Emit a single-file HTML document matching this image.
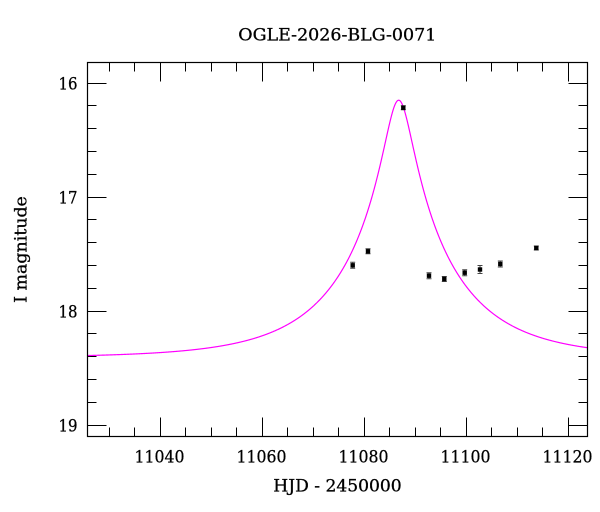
<!DOCTYPE html>
<html>
<head>
<meta charset="utf-8">
<style>
  html, body { margin: 0; padding: 0; background: #fff; }
  svg { display: block; }
  text { font-family: "DejaVu Serif", "Liberation Serif", serif; fill: #000; stroke: #000; stroke-width: 0.3; }
</style>
</head>
<body>
<svg id="chart" width="600" height="512" viewBox="0 0 600 512" xmlns="http://www.w3.org/2000/svg">
  <rect x="0" y="0" width="600" height="512" fill="#fff"/>
  <defs>
    <clipPath id="plotclip"><rect x="87.5" y="62.5" width="500" height="374"/></clipPath>
  </defs>

  <!-- title -->
  <text x="337.3" y="40.7" font-size="17" text-anchor="middle" textLength="198" lengthAdjust="spacingAndGlyphs">OGLE-2026-BLG-0071</text>

  <!-- axis titles -->
  <text x="337.5" y="491.7" font-size="17" text-anchor="middle" textLength="128.4" lengthAdjust="spacingAndGlyphs">HJD - 2450000</text>
  <text transform="translate(26.7,249.5) rotate(-90)" x="0" y="0" font-size="17" text-anchor="middle" textLength="106.7" lengthAdjust="spacingAndGlyphs">I magnitude</text>

  <g id="ticks" stroke="#000" stroke-width="1" fill="none"></g>
  <g id="labels"></g>

  <!-- model curve -->
  <path id="curve" d="" fill="none" stroke="#ff00ff" stroke-width="1.2" clip-path="url(#plotclip)"/>

  <!-- data -->
  <g id="data" stroke="#000" fill="#000"></g>

  <!-- frame -->
  <rect x="87.5" y="62.5" width="500" height="374" fill="none" stroke="#000" stroke-width="1.2"/>
</svg>
<script>
(function(){
  var NS = "http://www.w3.org/2000/svg";
  function X(t){ return 159.5 + (t - 11040) * 5.1; }
  function Y(m){ return 82.5 + (m - 16) * 114; }
  var L = 87.5, R = 587.5, T = 62.5, B = 436.5;
  var tg = document.getElementById('ticks');
  var lg = document.getElementById('labels');
  function line(x1,y1,x2,y2){
    var l = document.createElementNS(NS,'line');
    l.setAttribute('x1',x1); l.setAttribute('y1',y1);
    l.setAttribute('x2',x2); l.setAttribute('y2',y2);
    tg.appendChild(l);
  }
  function text(x,y,s,anchor,len){
    var t = document.createElementNS(NS,'text');
    t.setAttribute('x',x); t.setAttribute('y',y);
    t.setAttribute('font-size','17');
    t.setAttribute('text-anchor',anchor);
    if(len){ t.setAttribute('textLength',len); t.setAttribute('lengthAdjust','spacingAndGlyphs'); }
    t.textContent = s;
    lg.appendChild(t);
  }
  // x ticks
  for (var d = 11030; d <= 11120; d += 5) {
    var x = Math.round(X(d)) + 0.5;
    var major = (d % 20 === 0);
    var len = major ? 19 : 9;
    line(x, B, x, B - len);
    line(x, T, x, T + len);
    if (major) text(X(d), 462.7, String(d), 'middle', 50);
  }
  // y ticks
  for (var i = 0; i <= 15; i++) {
    var m = 16 + i * 0.2;
    var y = Math.round(Y(m)) + 0.5;
    var major = (i % 5 === 0);
    var len = major ? 19 : 9;
    line(L, y, L + len, y);
    line(R, y, R - len, y);
    if (major) text(77.5, Y(m) + 7, String(Math.round(m)), 'end', 19);
  }
  // model curve (Paczynski)
  var Ib = 18.415, u0 = 0.1255, tE = 20.9, t0 = 11086.9;
  function mag(t){
    var tau = (t - t0) / tE;
    var u = Math.sqrt(u0*u0 + tau*tau);
    var A = (u*u + 2) / (u * Math.sqrt(u*u + 4));
    return Ib - 2.5 * Math.log(A) / Math.LN10;
  }
  var d = "";
  var tStart = 11025.5, tEnd = 11124.5;
  for (var t = tStart; t <= tEnd; t += 0.05) {
    d += (d ? " L" : "M") + X(t).toFixed(2) + " " + Y(mag(t)).toFixed(2);
  }
  document.getElementById('curve').setAttribute('d', d);
  // data points [x, y, err]
  var pts = [
    [352.7, 265.3, 3],
    [368.0, 251.3, 2.5],
    [403.3, 107.7, 2],
    [429.0, 275.7, 3],
    [444.3, 279.0, 2.5],
    [464.7, 272.7, 3],
    [480.0, 269.5, 4],
    [500.3, 264.0, 3],
    [536.3, 248.0, 2]
  ];
  var dg = document.getElementById('data');
  pts.forEach(function(p){
    var x = p[0], y = p[1], e = p[2];
    var eb = document.createElementNS(NS,'path');
    eb.setAttribute('d', 'M'+x+' '+(y-e)+' L'+x+' '+(y+e)+
      ' M'+(x-2.5)+' '+(y-e)+' L'+(x+2.5)+' '+(y-e)+
      ' M'+(x-2.5)+' '+(y+e)+' L'+(x+2.5)+' '+(y+e));
    eb.setAttribute('stroke','#444'); eb.setAttribute('stroke-width','1'); eb.setAttribute('fill','none');
    dg.appendChild(eb);
    var r = document.createElementNS(NS,'rect');
    r.setAttribute('x', x-2.2); r.setAttribute('y', y-2.2);
    r.setAttribute('width', 4.4); r.setAttribute('height', 4.4);
    r.setAttribute('stroke','none'); r.setAttribute('fill','#000');
    dg.appendChild(r);
  });
})();
</script>
</body>
</html>
